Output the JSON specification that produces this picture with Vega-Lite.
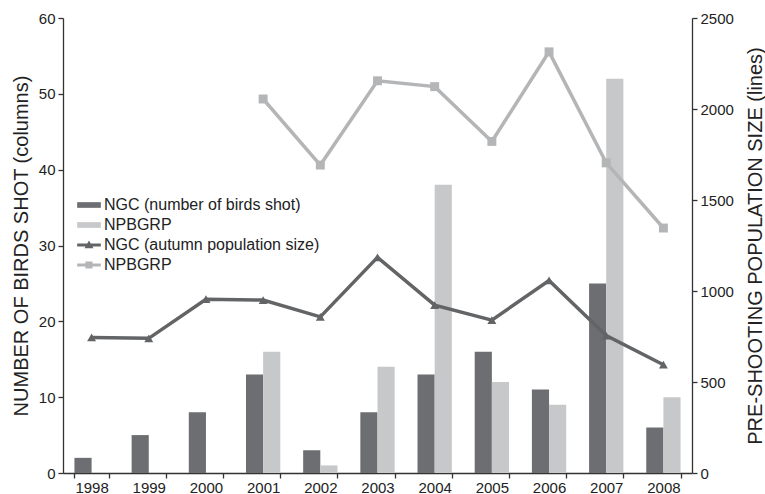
{
  "$schema": "https://vega.github.io/schema/vega-lite/v6.json",
  "autosize": {"type": "none"},
  "width": 629,
  "height": 455,
  "padding": {"left": 63, "top": 18, "right": 73, "bottom": 21},
  "background": "white",
  "config": {
    "font": "Liberation Sans",
    "view": {"stroke": null},
    "axis": {
      "grid": false,
      "domainColor": "#333333",
      "tickColor": "#333333",
      "labelColor": "#222222",
      "titleColor": "#222222",
      "labelFontSize": 15,
      "titleFontSize": 20,
      "titleFontWeight": "normal",
      "domainWidth": 1.3,
      "tickWidth": 1.3,
      "tickSize": 5
    },
    "legend": {
      "labelFontSize": 16,
      "labelColor": "#222222",
      "padding": 0,
      "rowPadding": 0,
      "labelOffset": 3,
      "labelLimit": 0
    }
  },
  "datasets": {
    "bars": [
      {"year": 1998, "series": "NGC (number of birds shot)", "shot": 2},
      {"year": 1999, "series": "NGC (number of birds shot)", "shot": 5},
      {"year": 2000, "series": "NGC (number of birds shot)", "shot": 8},
      {"year": 2001, "series": "NGC (number of birds shot)", "shot": 13},
      {"year": 2002, "series": "NGC (number of birds shot)", "shot": 3},
      {"year": 2003, "series": "NGC (number of birds shot)", "shot": 8},
      {"year": 2004, "series": "NGC (number of birds shot)", "shot": 13},
      {"year": 2005, "series": "NGC (number of birds shot)", "shot": 16},
      {"year": 2006, "series": "NGC (number of birds shot)", "shot": 11},
      {"year": 2007, "series": "NGC (number of birds shot)", "shot": 25},
      {"year": 2008, "series": "NGC (number of birds shot)", "shot": 6},
      {"year": 2001, "series": "NPBGRP (number of birds shot)", "shot": 16},
      {"year": 2002, "series": "NPBGRP (number of birds shot)", "shot": 1},
      {"year": 2003, "series": "NPBGRP (number of birds shot)", "shot": 14},
      {"year": 2004, "series": "NPBGRP (number of birds shot)", "shot": 38},
      {"year": 2005, "series": "NPBGRP (number of birds shot)", "shot": 12},
      {"year": 2006, "series": "NPBGRP (number of birds shot)", "shot": 9},
      {"year": 2007, "series": "NPBGRP (number of birds shot)", "shot": 52},
      {"year": 2008, "series": "NPBGRP (number of birds shot)", "shot": 10}
    ],
    "lines": [
      {"year": 1998, "series": "NGC (autumn population size)", "population": 745},
      {"year": 1999, "series": "NGC (autumn population size)", "population": 740},
      {"year": 2000, "series": "NGC (autumn population size)", "population": 955},
      {"year": 2001, "series": "NGC (autumn population size)", "population": 950},
      {"year": 2002, "series": "NGC (autumn population size)", "population": 858},
      {"year": 2003, "series": "NGC (autumn population size)", "population": 1185},
      {"year": 2004, "series": "NGC (autumn population size)", "population": 922},
      {"year": 2005, "series": "NGC (autumn population size)", "population": 840},
      {"year": 2006, "series": "NGC (autumn population size)", "population": 1058},
      {"year": 2007, "series": "NGC (autumn population size)", "population": 755},
      {"year": 2008, "series": "NGC (autumn population size)", "population": 595},
      {"year": 2001, "series": "NPBGRP (autumn population size)", "population": 2055},
      {"year": 2002, "series": "NPBGRP (autumn population size)", "population": 1692},
      {"year": 2003, "series": "NPBGRP (autumn population size)", "population": 2155},
      {"year": 2004, "series": "NPBGRP (autumn population size)", "population": 2123},
      {"year": 2005, "series": "NPBGRP (autumn population size)", "population": 1822},
      {"year": 2006, "series": "NPBGRP (autumn population size)", "population": 2314},
      {"year": 2007, "series": "NPBGRP (autumn population size)", "population": 1704},
      {"year": 2008, "series": "NPBGRP (autumn population size)", "population": 1346}
    ]
  },
  "layer": [
    {
      "data": {"name": "bars"},
      "mark": {"type": "bar"},
      "encoding": {
        "x": {
          "field": "year",
          "type": "ordinal",
          "scale": {"paddingInner": 0.4, "paddingOuter": 0.2},
          "axis": {"title": null, "labelAngle": 0, "tickBand": "extent", "labelPadding": 2}
        },
        "xOffset": {
          "field": "series",
          "type": "nominal",
          "scale": {"domain": ["NGC (number of birds shot)", "NPBGRP (number of birds shot)"], "paddingInner": 0, "paddingOuter": 0}
        },
        "y": {
          "field": "shot",
          "type": "quantitative",
          "scale": {"domain": [0, 60], "nice": false},
          "axis": {"title": "NUMBER OF BIRDS SHOT (columns)", "values": [0, 10, 20, 30, 40, 50, 60], "titlePadding": 7, "labelPadding": 3}
        },
        "color": {
          "field": "series",
          "type": "nominal",
          "scale": {
            "domain": ["NGC (number of birds shot)", "NPBGRP (number of birds shot)", "NGC (autumn population size)", "NPBGRP (autumn population size)"],
            "range": ["#6d6e71", "#c7c8ca", "#636466", "#b4b5b7"]
          },
          "legend": {
            "title": null,
            "orient": "none",
            "legendX": 14,
            "legendY": 175,
            "symbolSize": 560,
            "labelExpr": "indexof(datum.label, 'NPBGRP') === 0 ? 'NPBGRP' : datum.label",
            "encode": {
              "symbols": {
                "update": {
                  "shape": {"signal": "datum.index < 2 ? 'M-1,-0.24H1V0.24H-1Z' : (datum.index == 2 ? 'M-1,-0.13H1V0.13H-1Z M-0.38,0.28L0,-0.38L0.38,0.28Z' : 'M-1,-0.13H1V0.13H-1Z M-0.3,-0.3H0.3V0.3H-0.3Z')"},
                  "fill": {"scale": "color", "field": "value"},
                  "strokeWidth": {"value": 0},
                  "opacity": {"value": 1}
                }
              }
            }
          }
        }
      }
    },
    {
      "data": {"name": "lines"},
      "layer": [
        {
          "mark": {"type": "line", "strokeWidth": 3.5},
          "encoding": {
            "x": {"field": "year", "type": "ordinal"},
            "y": {
              "field": "population",
              "type": "quantitative",
              "scale": {"domain": [0, 2500], "nice": false},
              "axis": {"orient": "right", "title": "PRE-SHOOTING POPULATION SIZE (lines)", "values": [0, 500, 1000, 1500, 2000, 2500], "format": "d", "titleAngle": 270, "titleBaseline": "top", "titlePadding": 12, "labelPadding": 3}
            },
            "color": {"field": "series", "type": "nominal"}
          }
        },
        {
          "mark": {"type": "point", "filled": true, "opacity": 1, "size": 80},
          "encoding": {
            "x": {"field": "year", "type": "ordinal"},
            "y": {"field": "population", "type": "quantitative"},
            "color": {"field": "series", "type": "nominal"},
            "shape": {
              "field": "series",
              "type": "nominal",
              "scale": {"domain": ["NGC (autumn population size)", "NPBGRP (autumn population size)"], "range": ["triangle-up", "square"]},
              "legend": null
            }
          }
        }
      ]
    }
  ],
  "resolve": {"scale": {"y": "independent"}}
}
